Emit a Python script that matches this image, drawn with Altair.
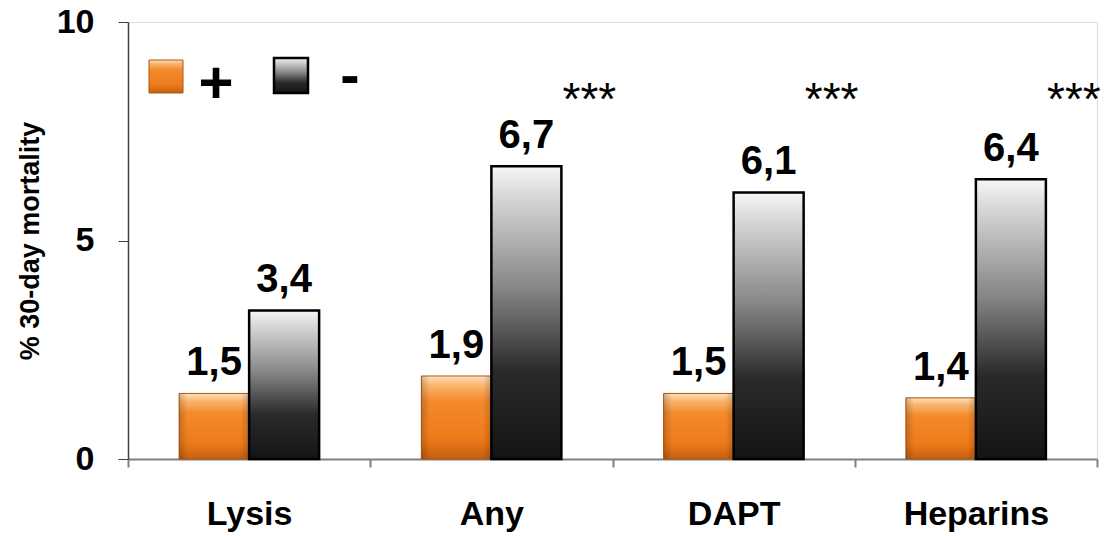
import altair as alt
import pandas as pd

# Groups and 30-day mortality (%) with (+) and without (-) each therapy
categories = ["Lysis", "Any", "DAPT", "Heparins"]
groups = ["+", "-"]
with_therapy = [1.5, 1.9, 1.5, 1.4]
without_therapy = [3.4, 6.7, 6.1, 6.4]
significance = ["", "***", "***", "***"]

rows = []
for cat, plus, minus in zip(categories, with_therapy, without_therapy):
    for grp, val in (("+", plus), ("-", minus)):
        rows.append({"category": cat, "group": grp, "value": val,
                     "label": f"{val:.1f}".replace(".", ",")})
bars_df = pd.DataFrame(rows)
stars_df = pd.DataFrame({"category": categories, "stars": significance})

FONT = "Liberation Sans"

orange_fill = alt.Gradient(
    gradient="linear", x1=0, y1=0, x2=0, y2=1,
    stops=[
        alt.GradientStop(color="#fde0bc", offset=0.0),
        alt.GradientStop(color="#f9b36c", offset=0.12),
        alt.GradientStop(color="#f38a2c", offset=0.3),
        alt.GradientStop(color="#ee7b1a", offset=0.75),
        alt.GradientStop(color="#c45f12", offset=1.0),
    ],
)
grey_fill = alt.Gradient(
    gradient="linear", x1=0, y1=0, x2=0, y2=1,
    stops=[
        alt.GradientStop(color="#f7f7f7", offset=0.0),
        alt.GradientStop(color="#d8d8d8", offset=0.1),
        alt.GradientStop(color="#858585", offset=0.42),
        alt.GradientStop(color="#2a2a2a", offset=0.7),
        alt.GradientStop(color="#141414", offset=1.0),
    ],
)
edge_shade = alt.Gradient(
    gradient="linear", x1=0, y1=0, x2=1, y2=0,
    stops=[
        alt.GradientStop(color="rgba(0,0,0,0.18)", offset=0.0),
        alt.GradientStop(color="rgba(0,0,0,0)", offset=0.12),
        alt.GradientStop(color="rgba(0,0,0,0)", offset=0.88),
        alt.GradientStop(color="rgba(0,0,0,0.18)", offset=1.0),
    ],
)

x_enc = alt.X(
    "category:N", sort=categories, title=None,
    scale=alt.Scale(paddingInner=0, paddingOuter=0),
    axis=alt.Axis(labelAngle=0, labelFontSize=34, labelFontWeight="bold",
                  labelColor="black", labelFont=FONT, labelPadding=30,
                  tickBand="extent", tickSize=8, tickColor="#808080",
                  tickWidth=2, domainColor="#808080", domainWidth=2),
)
xoff_enc = alt.XOffset("group:N", sort=groups,
                       scale=alt.Scale(paddingOuter=0.73, paddingInner=0))
y_enc = alt.Y(
    "value:Q", title="% 30-day mortality",
    scale=alt.Scale(domain=[0, 10], nice=False),
    axis=alt.Axis(values=[0, 5, 10], grid=False, labelFontSize=34,
                  labelFontWeight="bold", labelColor="black", labelFont=FONT,
                  labelPadding=24, tickSize=10, tickColor="#404040",
                  domainColor="#404040", domainWidth=1.5,
                  titleFontSize=27, titleFontWeight="bold", titleFont=FONT,
                  titleColor="black", titlePadding=12),
)

base = alt.Chart(bars_df).encode(x=x_enc, xOffset=xoff_enc, y=y_enc)

plus_bars = base.transform_filter(alt.datum.group == "+").mark_bar(
    fill=orange_fill, stroke="#b0560f", strokeWidth=1)
minus_bars = base.transform_filter(alt.datum.group == "-").mark_bar(
    fill=grey_fill, stroke="black", strokeWidth=2.5)
plus_edges = base.transform_filter(alt.datum.group == "+").mark_bar(
    fill=edge_shade, strokeWidth=0)

value_labels = base.mark_text(
    baseline="alphabetic", dy=-18, fontSize=40, fontWeight="bold",
    font=FONT, color="black").encode(text="label:N")

star_labels = alt.Chart(stars_df).mark_text(
    baseline="alphabetic", dx=98, fontSize=46, font=FONT, color="black"
).encode(x=alt.X("category:N", sort=categories), y=alt.value(93),
         text="stars:N")

# Legend: gradient swatches with +/- markers
one = alt.Data(values=[{}])
legend_plus_box = alt.Chart(one).mark_rect(
    fill=orange_fill, stroke="#b0560f", strokeWidth=1).encode(
    x=alt.value(21), x2=alt.value(55), y=alt.value(38), y2=alt.value(71))
legend_minus_box = alt.Chart(one).mark_rect(
    fill=grey_fill, stroke="black", strokeWidth=2.5).encode(
    x=alt.value(146), x2=alt.value(180), y=alt.value(36), y2=alt.value(71))
legend_plus_text = alt.Chart(one).mark_text(
    text="+", fontSize=60, fontWeight="bold", font=FONT, color="black",
    baseline="alphabetic").encode(x=alt.value(88), y=alt.value(81))
legend_minus_text = alt.Chart(one).mark_text(
    text="-", fontSize=58, fontWeight="bold", font=FONT, color="black",
    baseline="alphabetic").encode(x=alt.value(222), y=alt.value(73))

chart = alt.layer(
    plus_bars, plus_edges, minus_bars, value_labels, star_labels,
    legend_plus_box, legend_minus_box, legend_plus_text, legend_minus_text,
).properties(
    width=969, height=437,
    autosize=alt.AutoSizeParams(type="none"),
    padding={"left": 128, "top": 22, "right": 18, "bottom": 77},
).configure_view(stroke=None).configure(background="white")

chart.save("out.html", embed_options={"renderer": "svg", "actions": False})
